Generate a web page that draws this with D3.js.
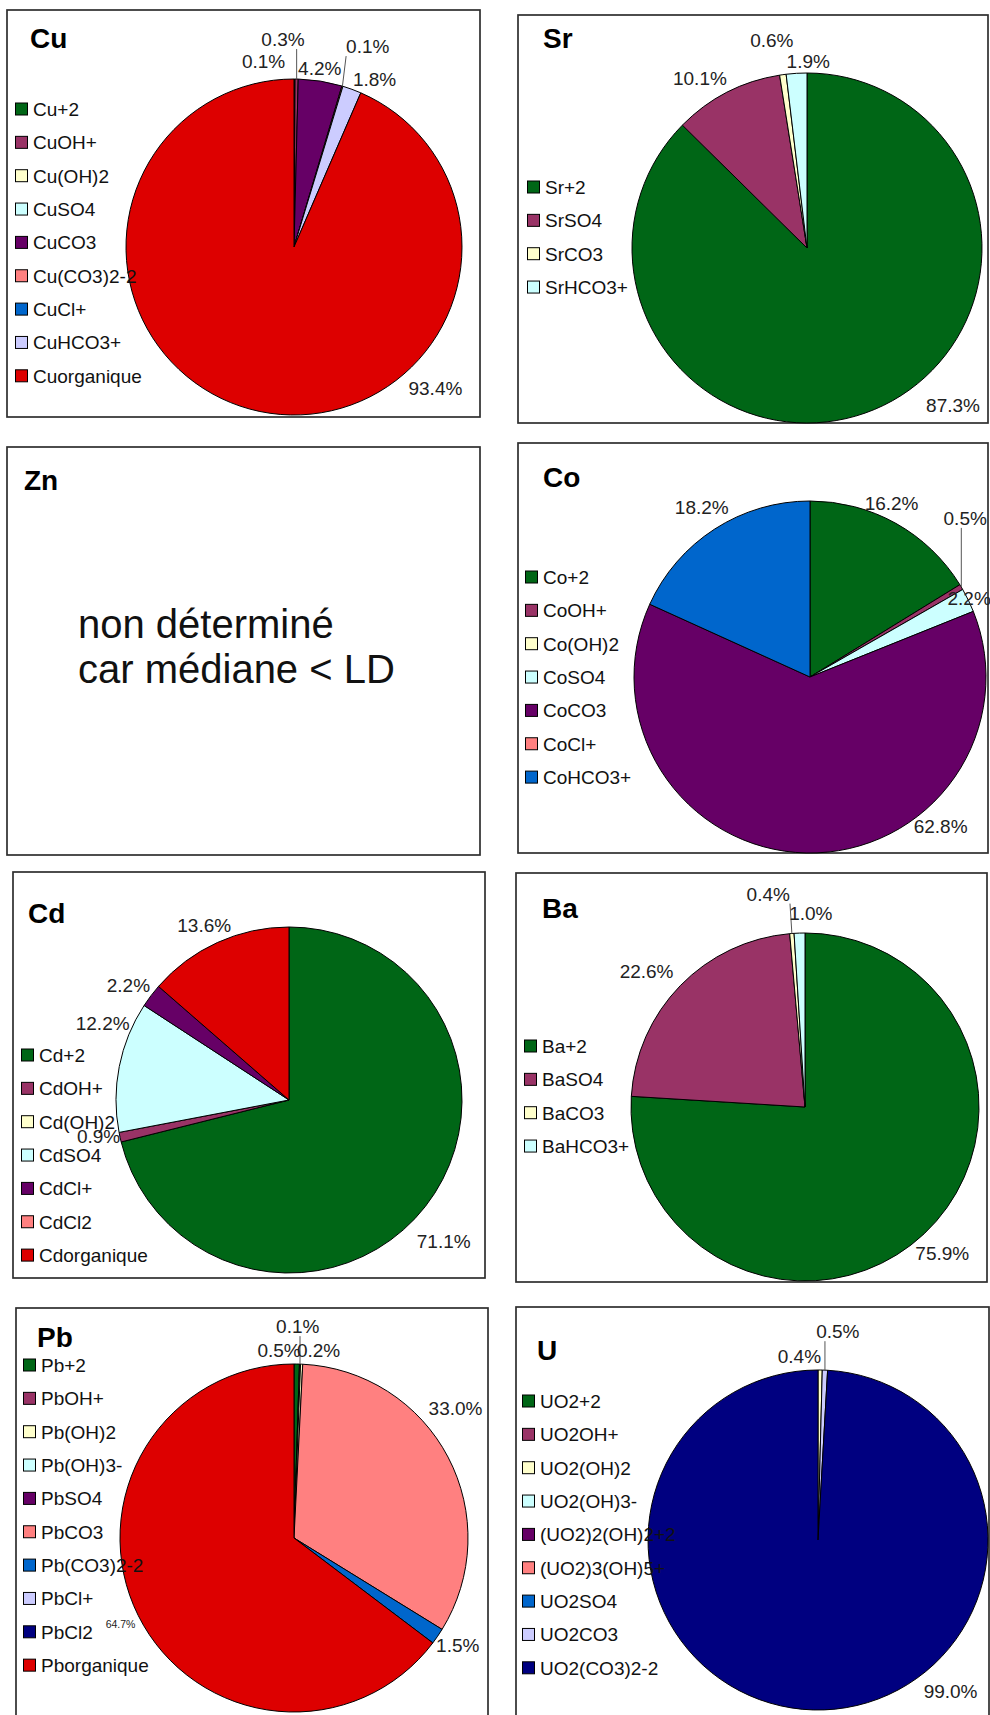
<!DOCTYPE html>
<html>
<head>
<meta charset="utf-8">
<script src="https://cdn.jsdelivr.net/npm/d3@7"></script>
<style>
  body { margin: 0; background: #fff; }
  svg { display: block; }
  text { font-family: "Liberation Sans", Arial, Helvetica, sans-serif; }
</style>
</head>
<body>
<svg id="chart" width="990" height="1715"></svg>
<script>
// ---- Speciation of each element (percent of total dissolved) ----
const cuSpecies = ["Cu+2", "CuOH+", "Cu(OH)2", "CuSO4", "CuCO3", "Cu(CO3)2-2", "CuCl+", "CuHCO3+", "Cuorganique"];
const cuPercent = [0.1, 0.3, 0, 0, 4.2, 0.1, 0, 1.8, 93.4];

const srSpecies = ["Sr+2", "SrSO4", "SrCO3", "SrHCO3+"];
const srPercent = [87.3, 10.1, 0.6, 1.9];

const coSpecies = ["Co+2", "CoOH+", "Co(OH)2", "CoSO4", "CoCO3", "CoCl+", "CoHCO3+"];
const coPercent = [16.2, 0.5, 0, 2.2, 62.8, 0, 18.2];

const cdSpecies = ["Cd+2", "CdOH+", "Cd(OH)2", "CdSO4", "CdCl+", "CdCl2", "Cdorganique"];
const cdPercent = [71.1, 0.9, 0, 12.2, 2.2, 0, 13.6];

const baSpecies = ["Ba+2", "BaSO4", "BaCO3", "BaHCO3+"];
const baPercent = [75.9, 22.6, 0.4, 1.0];

const pbSpecies = ["Pb+2", "PbOH+", "Pb(OH)2", "Pb(OH)3-", "PbSO4", "PbCO3", "Pb(CO3)2-2", "PbCl+", "PbCl2", "Pborganique"];
const pbPercent = [0.5, 0.1, 0.2, 0, 0, 33.0, 1.5, 0, 0, 64.7];

const uSpecies = ["UO2+2", "UO2OH+", "UO2(OH)2", "UO2(OH)3-", "(UO2)2(OH)2+2", "(UO2)3(OH)5+", "UO2SO4", "UO2CO3", "UO2(CO3)2-2"];
const uPercent = [0, 0, 0.4, 0, 0, 0, 0, 0.5, 99.0];

const znNote = ["non déterminé", "car médiane < LD"];

// ---- Colours: series order palette, organic fraction always red ----
const seriesPalette = ["#006616", "#993366", "#FFFFCC", "#CCFFFF", "#660066", "#FF8080", "#0066CC", "#CCCCFF", "#000080"];
const organicColor = "#DD0000";

// ---- Panel layout (frame, pie, legend, label nudges) ----
const panels = [
  { title: "Cu", species: cuSpecies, values: cuPercent,
    box: [7, 10, 473, 407], titleAt: [30, 48], center: [294, 247], r: 168, legend: [15, 109],
    nudges: [[-31, 4], [-14, -18], null, null, [-4, 9], [19, -19], null, [15, 10], [180, -45]],
    leaders: [1, 5] },
  { title: "Sr", species: srSpecies, values: srPercent,
    box: [518, 15, 470, 408], titleAt: [543, 48], center: [807, 248], r: 175, legend: [527, 187],
    nudges: [[70, -25], [-17, 5], [-8, -13], [13, 10]],
    leaders: [] },
  { title: "Zn", note: znNote,
    box: [7, 447, 473, 408], titleAt: [24, 490] },
  { title: "Co", species: coSpecies, values: coPercent,
    box: [518, 443, 470, 410], titleAt: [543, 487], center: [810, 677], r: 176, legend: [525, 577],
    nudges: [[-15, -1], [-15, -58], null, [-19, 7], [135, -49], null, [-1, -4]],
    leaders: [1] },
  { title: "Cd", species: cdSpecies, values: cdPercent,
    box: [13, 872, 472, 406], titleAt: [28, 923], center: [289, 1100], r: 173, legend: [21, 1055],
    nudges: [[1, 21], [0, -6], null, [5, -39], [-5, 3], null, [-4, 2]],
    leaders: [] },
  { title: "Ba", species: baSpecies, values: baPercent,
    box: [516, 873, 471, 409], titleAt: [542, 918], center: [805, 1107], r: 174, legend: [524, 1046],
    nudges: [[3, 3], [-18, 1], [-22, -18], [12, 2]],
    leaders: [2] },
  { title: "Pb", species: pbSpecies, values: pbPercent,
    box: [16, 1308, 472, 430], titleAt: [37, 1347], center: [294, 1538], r: 174, legend: [23, 1365],
    nudges: [[-18, 8], [-3, -16], [16, 8], null, null, [-12, -39], [2, -4], null, null, [2, -1]],
    smallLabels: [9],
    leaders: [1] },
  { title: "U", species: uSpecies, values: uPercent,
    box: [516, 1307, 473, 430], titleAt: [537, 1360], center: [818, 1540], r: 170, legend: [522, 1401],
    nudges: [null, null, [-21, 8], null, null, null, null, [12, -17], [138, -41]],
    leaders: [7] }
];

const svg = d3.select("#chart");
const fmtPct = d3.format(".1f");
const labelFont = 19, smallFont = 10.5, legendFont = 19, rowStep = 33.35, swatch = 12;

panels.forEach(p => {
  const g = svg.append("g");

  // frame
  g.append("rect")
    .attr("x", p.box[0]).attr("y", p.box[1])
    .attr("width", p.box[2]).attr("height", p.box[3])
    .attr("fill", "#fff").attr("stroke", "#2e2e2e").attr("stroke-width", 1.7);

  if (p.note) {
    g.selectAll("text.note").data(p.note).join("text")
      .attr("class", "note")
      .attr("x", 78).attr("y", (d, i) => 638 + i * 45)
      .attr("font-size", 40).attr("fill", "#111")
      .text(d => d);
  } else {
    const [cx, cy] = p.center;
    const color = (name, i) => name.endsWith("organique") ? organicColor : seriesPalette[i % seriesPalette.length];
    const rows = p.species.map((name, i) => ({ name, value: p.values[i], i }));

    const pie = d3.pie().sort(null).value(d => d.value).startAngle(0).endAngle(2 * Math.PI);
    const arcs = pie(rows);
    const arc = d3.arc().innerRadius(0).outerRadius(p.r);
    const labelArc = d3.arc().innerRadius(p.r + 22).outerRadius(p.r + 22);

    const pieG = g.append("g").attr("transform", `translate(${cx},${cy})`);
    pieG.selectAll("path").data(arcs.filter(a => a.data.value > 0)).join("path")
      .attr("d", arc)
      .attr("fill", a => color(a.data.name, a.data.i))
      .attr("stroke", "#000").attr("stroke-width", 1)
      .attr("stroke-linejoin", "round");

    // percentage labels
    arcs.filter(a => a.data.value > 0).forEach(a => {
      const i = a.data.i;
      const nud = p.nudges[i] || [0, 0];
      const fs = (p.smallLabels || []).includes(i) ? smallFont : labelFont;
      const [lx, ly] = labelArc.centroid(a);
      const tx = cx + lx + nud[0];
      const ty = cy + ly + nud[1] + 0.37 * fs;
      const t = g.append("text")
        .attr("x", tx).attr("y", ty)
        .attr("text-anchor", "middle")
        .attr("font-size", fs).attr("fill", "#222")
        .text(fmtPct(a.data.value) + "%");

      if ((p.leaders || []).includes(i)) {
        const bb = t.node().getBBox();
        const mid = (a.startAngle + a.endAngle) / 2;
        const ex = cx + Math.sin(mid) * p.r;
        const ey = cy - Math.cos(mid) * p.r;
        const sx = Math.max(bb.x, Math.min(bb.x + bb.width, ex));
        const sy = Math.max(bb.y, Math.min(bb.y + bb.height - 1, ey));
        g.append("line")
          .attr("x1", sx).attr("y1", sy).attr("x2", ex).attr("y2", ey)
          .attr("stroke", "#555").attr("stroke-width", 1);
      }
    });

    // legend
    const [lgx, lgy] = p.legend;
    const lg = g.append("g");
    const item = lg.selectAll("g").data(rows).join("g")
      .attr("transform", d => `translate(${lgx},${lgy + d.i * rowStep})`);
    item.append("rect")
      .attr("x", 0.5).attr("y", -swatch / 2)
      .attr("width", swatch).attr("height", swatch)
      .attr("fill", d => color(d.name, d.i))
      .attr("stroke", "#000").attr("stroke-width", 1);
    item.append("text")
      .attr("x", 18).attr("y", 6.8)
      .attr("font-size", legendFont).attr("fill", "#111")
      .text(d => d.name);
  }

  // title
  g.append("text")
    .attr("x", p.titleAt[0]).attr("y", p.titleAt[1])
    .attr("font-size", 28).attr("font-weight", "bold").attr("fill", "#000")
    .text(p.title);
});
</script>
</body>
</html>
